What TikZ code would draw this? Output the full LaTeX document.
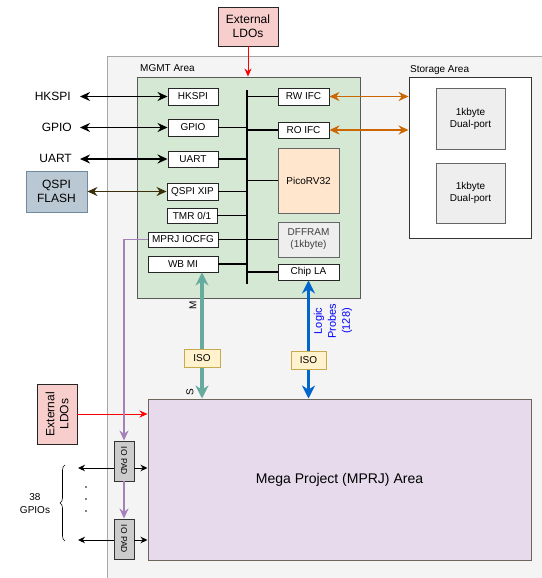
\documentclass[tikz,border=0pt]{standalone}
\usepackage{fontspec}
\setmainfont{Liberation Sans}
\usetikzlibrary{arrows.meta,decorations.pathreplacing}
\definecolor{areagray}{HTML}{F4F4F4}
\definecolor{areaborder}{HTML}{A6A6A6}
\definecolor{mgmtgreen}{HTML}{D5E8D4}
\definecolor{picoorange}{HTML}{FFE6CC}
\definecolor{ldored}{HTML}{F8CECC}
\definecolor{qspiblue}{HTML}{BAC8D3}
\definecolor{qspiborder}{HTML}{6F8A9E}
\definecolor{isoyellow}{HTML}{FFF2CC}
\definecolor{isoborder}{HTML}{C9A94F}
\definecolor{megapurple}{HTML}{E6DAEC}
\definecolor{megaborder}{HTML}{6E665C}
\definecolor{padgray}{HTML}{CCCCCC}
\definecolor{lightbox}{HTML}{EEEEEE}
\definecolor{tealarrow}{HTML}{67AB9F}
\definecolor{bluearrow}{HTML}{0066CC}
\definecolor{orangearrow}{HTML}{CC6600}
\definecolor{purpleline}{HTML}{A680B8}
\definecolor{qspiarrow}{HTML}{3B2E0A}
\definecolor{probeblue}{HTML}{0000FF}
\newcommand{\fsz}[1]{\fontsize{#1}{1.2\dimexpr #1pt\relax}\selectfont}
\begin{document}
\begin{tikzpicture}[x=1pt,y=-1pt,
  box/.style={draw=black!85, fill=white, line width=0.9pt, inner sep=0pt, font=\fsz{10}, align=center},
  graybox/.style={box, fill=lightbox, draw=black!60},
  busline/.style={line width=1.8pt, black},
  tips/.style={{Stealth[length=10pt,width=9pt]}-{Stealth[length=10pt,width=9pt]}},
  blk/.style={line width=1.9pt, black, tips},
  thin arrow/.style={line width=0.9pt, black, -{Stealth[length=7pt,width=6.5pt]}},
  redarrow/.style={line width=0.9pt, red, -{Stealth[length=8pt,width=7pt]}},
  purple arrow/.style={line width=1.6pt, purpleline, -{Stealth[length=10pt,width=9pt]}},
  lbl/.style={inner sep=0pt, font=\fsz{12}},
  isobox/.style={draw=isoborder, fill=isoyellow, line width=0.9pt, inner sep=0pt, minimum height=18pt, font=\fsz{10}}
]
\useasboundingbox (0,0) rectangle (541,578);
% outer area
\fill[areagray] (107.5,57.5) rectangle (560,600);
\draw[draw=areaborder, line width=1pt] (107,600) -- (107,57) -- (560,57);

% top LDO
\node[box, fill=ldored, minimum width=60pt, minimum height=39pt, font=\fsz{12}] (ldotop) at (248,26.5) {External\\LDOs};

% MGMT area
\node[draw=black!65, fill=mgmtgreen, line width=0.9pt, minimum width=223pt, minimum height=221pt, inner sep=0pt] (mgmt) at (248.5,187.5) {};
\node[anchor=west, inner sep=0pt, font=\fsz{10}] (mgmtlbl) at (140,68) {MGMT Area};

% storage area
\node[draw=black!80, fill=white, line width=0.9pt, minimum width=122pt, minimum height=161pt, inner sep=0pt] (storage) at (470,157.5) {};
\node[anchor=west, inner sep=0pt, font=\fsz{10}] (storlbl) at (410,70) {Storage Area};
\node[graybox, minimum width=69pt, minimum height=61pt] (mem1) at (470.5,118.5) {1kbyte\\Dual-port};
\node[graybox, minimum width=69pt, minimum height=60pt] (mem2) at (470.5,193) {1kbyte\\Dual-port};

% left boxes
\node[box, minimum width=50pt, minimum height=17pt] (hkspi) at (193,96.5) {HKSPI};
\node[box, minimum width=50pt, minimum height=17pt] (gpio) at (193,127.5) {GPIO};
\node[box, minimum width=50pt, minimum height=16pt] (uart) at (193,159) {UART};
\node[box, minimum width=51pt, minimum height=17pt] (qspi) at (192.5,191.5) {QSPI XIP};
\node[box, minimum width=50pt, minimum height=15pt] (tmr) at (192,215.5) {TMR 0/1};
\node[box, minimum width=70pt, minimum height=15pt] (iocfg) at (183,239.5) {MPRJ IOCFG};
\node[box, minimum width=70pt, minimum height=16pt] (wbmi) at (183,264) {WB MI};

% right boxes
\node[box, minimum width=51pt, minimum height=17pt] (rwifc) at (303.5,96.5) {RW IFC};
\node[box, minimum width=51pt, minimum height=16pt] (roifc) at (303.5,130) {RO IFC};
\node[box, fill=picoorange, draw=black!60, minimum width=61pt, minimum height=65pt] (pico) at (308.5,180.5) {PicoRV32};
\node[graybox, minimum width=61pt, minimum height=35pt, text=black!75] (dffram) at (308.5,239.5) {DFFRAM\\(1kbyte)};
\node[box, minimum width=61pt, minimum height=16pt] (chipla) at (308.5,272) {Chip LA};

% bus
\coordinate (bustop) at (247,90);
\coordinate (busbot) at (247,284);
\draw[busline] (bustop) -- (busbot);
\foreach \n in {gpio,uart,qspi,tmr,iocfg,wbmi}
  \draw[busline] (\n.east) -- (\n.east -| bustop);
\draw[busline] (bustop |- rwifc.west) -- (rwifc.west);
\draw[busline] (bustop |- roifc.west) -- (roifc.west);
\draw[busline] (bustop |- pico.west) -- (pico.west);
\draw[busline] (bustop |- dffram.west) -- (dffram.west);
\draw[busline] (bustop |- chipla.west) -- (chipla.west);

% LDO arrow
\draw[redarrow] (ldotop.south) -- (ldotop.south |- mgmt.north);

% orange arrows
\draw[line width=1.9pt, orangearrow, tips] (rwifc.east) -- (rwifc.east -| storage.west);
\draw[line width=1.9pt, orangearrow, tips] (roifc.east) -- (roifc.east -| storage.west);

% left labels
\node[lbl, anchor=east] (lhk) at (71,96.5) {HKSPI};
\node[lbl, anchor=east] (lgp) at (72,127.5) {GPIO};
\node[lbl, anchor=east] (lua) at (72,158.5) {UART};
\coordinate (lx) at (80,0);
\draw[blk] (lx |- hkspi.west) -- (hkspi.west);
\draw[blk] (lx |- gpio.west) -- (gpio.west);
\draw[blk] (lx |- uart.west) -- (uart.west);
\node[box, fill=qspiblue, draw=qspiborder, minimum width=61pt, minimum height=41pt, font=\fsz{12}] (flash) at (56.5,191.5) {QSPI\\FLASH};
\draw[line width=1.9pt, qspiarrow, tips] (flash.east |- qspi.west) -- (qspi.west);

% Mega project
\node[draw=megaborder, fill=megapurple, line width=1pt, minimum width=383pt, minimum height=161pt, inner sep=0pt, font=\fsz{14}] (mega) at (339.5,479.5) {Mega Project (MPRJ) Area};

% ISO + teal arrow
\coordinate (tealx) at (202,0);
\draw[line width=3.2pt, tealarrow, {Stealth[length=13pt,width=13pt]}-{Stealth[length=13pt,width=13pt]}] (wbmi.south -| tealx) -- (mega.north -| tealx);
\node[isobox, minimum width=36pt] (iso1) at (202,358) {ISO};
\node[inner sep=0pt, rotate=90, font=\fsz{10}] (mlbl) at (193,305) {M};
\node[inner sep=0pt, rotate=90, font=\fsz{10}] (slbl) at (190,392) {S};

% blue arrow
\draw[line width=3.2pt, bluearrow, {Stealth[length=13pt,width=13pt]}-{Stealth[length=13pt,width=13pt]}] (chipla.south) -- (chipla.south |- mega.north);
\node[isobox, minimum width=35pt] (iso2) at (308.5,360) {ISO};
\node[inner sep=0pt, rotate=90, align=center, text=probeblue, font=\fontsize{11}{14}\selectfont] (probes) at (333,321) {Logic\\Probes\\(128)};

% left LDO
\node[box, fill=ldored, minimum width=40pt, minimum height=60pt] (ldoleft) at (57,414) {};
\node[inner sep=0pt, rotate=90, align=center, font=\fontsize{12}{14}\selectfont] (ldoleftt) at (ldoleft.center) {External\\LDOs};
\draw[redarrow] (ldoleft.east) -- (ldoleft.east -| mega.west);

% IO pads
\node[draw=black!80, fill=padgray, line width=0.9pt, minimum width=20pt, minimum height=40pt, inner sep=0pt] (pad1) at (124,461) {};
\node[inner sep=0pt, rotate=-90, font=\fontsize{8.5}{10}\selectfont] (pad1t) at (pad1.center) {IO PAD};
\node[draw=black!80, fill=padgray, line width=0.9pt, minimum width=20pt, minimum height=40pt, inner sep=0pt] (pad2) at (124,539) {};
\node[inner sep=0pt, rotate=-90, font=\fontsize{8.5}{10}\selectfont] (pad2t) at (pad2.center) {IO PAD};

% purple line
\draw[purple arrow] (iocfg.west) -| (pad1.north);
\draw[purple arrow] (pad1.south) -- (pad2.north);

% gpio arrows
\coordinate (g1) at (78,468);
\coordinate (g2) at (78,540);
\draw[thin arrow] (pad1.west |- g1) -- (g1);
\draw[thin arrow] (pad1.east |- g1) -- (mega.west |- g1);
\draw[thin arrow] (pad2.west |- g2) -- (g2);
\draw[thin arrow] (pad2.east |- g2) -- (mega.west |- g2);

% dots and brace
\foreach \yy in {487,499,511} \fill (86,\yy) circle (0.8pt);
\coordinate (brb) at (65,541);
\coordinate (brt) at (65,465);
\draw[line width=0.6pt, decorate, decoration={brace, amplitude=5pt}] (brb) -- (brt);
\node[inner sep=0pt, align=center, font=\fontsize{10}{13}\selectfont] (gpios) at (35,504) {38\\GPIOs};
\end{tikzpicture}
\end{document}
